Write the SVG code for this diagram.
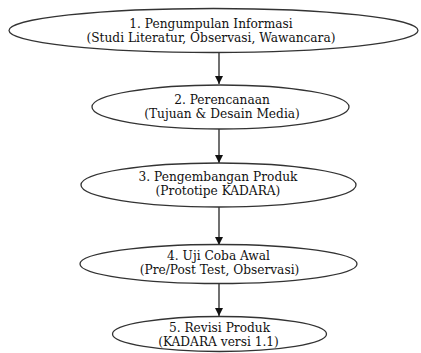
<svg xmlns="http://www.w3.org/2000/svg" width="421" height="353" viewBox="0 0 421 353">
<defs>
<marker id="ah" viewBox="0 0 10 10" refX="10" refY="5" markerWidth="8" markerHeight="9" markerUnits="userSpaceOnUse" orient="auto">
<path d="M0,0 L10,5 L0,10 Z" fill="#111"/>
</marker>
<style>
.n ellipse{fill:#fff;stroke:#333;stroke-width:1.3}
.n text{font-family:"DejaVu Serif",serif;font-size:12.2px;fill:#111;text-anchor:middle}
.e line{stroke:#111;stroke-width:1.2;marker-end:url(#ah)}
</style>
</defs>
<rect width="421" height="353" fill="#fff"/>
<g class="e" id="edges">
<line x1="219" y1="52" x2="219" y2="84"/>
<line x1="219" y1="129" x2="219" y2="163"/>
<line x1="219" y1="207" x2="219" y2="245"/>
<line x1="219" y1="283" x2="219" y2="316"/>
</g>
<g class="n" id="n1">
<ellipse cx="213.5" cy="30.5" rx="204.5" ry="22"/>
<text x="211" y="27.8">1. Pengumpulan Informasi</text>
<text x="211" y="42">(Studi Literatur, Observasi, Wawancara)</text>
</g>
<g class="n" id="n2">
<ellipse cx="220.5" cy="107" rx="128.5" ry="22"/>
<text x="222" y="103.8">2. Perencanaan</text>
<text x="222" y="118">(Tujuan &amp; Desain Media)</text>
</g>
<g class="n" id="n3">
<ellipse cx="218.5" cy="185" rx="137.5" ry="22"/>
<text x="218" y="180.8">3. Pengembangan Produk</text>
<text x="218" y="195">(Prototipe KADARA)</text>
</g>
<g class="n" id="n4">
<ellipse cx="218.5" cy="264" rx="138.5" ry="19.5"/>
<text x="218.5" y="259.8">4. Uji Coba Awal</text>
<text x="219.5" y="274">(Pre/Post Test, Observasi)</text>
</g>
<g class="n" id="n5">
<ellipse cx="219.5" cy="334" rx="107" ry="17.5"/>
<text x="219.5" y="331.8">5. Revisi Produk</text>
<text x="218.5" y="346">(KADARA versi 1.1)</text>
</g>
</svg>
